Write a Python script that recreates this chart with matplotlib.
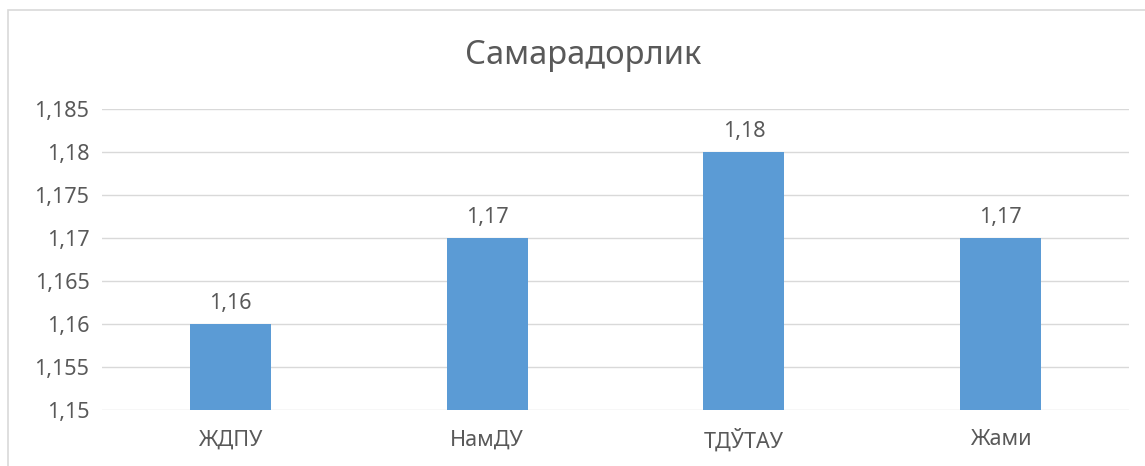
import matplotlib.pyplot as plt
import matplotlib.ticker as mticker
from matplotlib.patches import Rectangle
import numpy as np

plt.rcParams['font.family'] = ['Noto Sans', 'DejaVu Sans']

categories = ['ЖДПУ', 'НамДУ', 'ТДЎТАУ', 'Жами']
values = [1.16, 1.17, 1.18, 1.17]
value_labels = ['1,16', '1,17', '1,18', '1,17']
title = 'Самарадорлик'

text_color = '#595959'
bar_color = '#5B9BD5'
grid_color = '#D9D9D9'

fig = plt.figure(figsize=(11.45, 4.66), dpi=100)
ax = fig.add_axes([102 / 1145, 1 - 410 / 466, 1027 / 1145, 301 / 466])

# chart border (only left/top visible in the crop)
fig.patches.append(Rectangle((8 / 1145, -0.1), 1.2, 1 - 10 / 466 + 0.1,
                             transform=fig.transFigure, fill=False,
                             edgecolor=grid_color, linewidth=1.2))

x = np.arange(len(categories))
ax.bar(x, values, width=0.315, color=bar_color, zorder=3)

for xi, v, lab in zip(x, values, value_labels):
    ax.annotate(lab, (xi, v), xytext=(0, 7), textcoords='offset points',
                ha='center', va='bottom', fontsize=15.5, color=text_color)

ax.set_xlim(-0.5, len(categories) - 0.5)
ax.set_ylim(1.15, 1.185)
ax.yaxis.set_major_locator(mticker.MultipleLocator(0.005))
ax.yaxis.set_major_formatter(mticker.FuncFormatter(
    lambda v, p: ('%.3f' % v).rstrip('0').rstrip('.').replace('.', ',')))
ax.set_xticks(x)
ax.set_xticklabels(categories)

ax.grid(axis='y', color=grid_color, linewidth=1, zorder=0)
for s in ax.spines.values():
    s.set_visible(False)
ax.tick_params(length=0, labelsize=15.5, labelcolor=text_color)
ax.tick_params(axis='x', pad=14)
ax.tick_params(axis='y', pad=9)

fig.text(583 / 1145, 1 - 55 / 466, title, ha='center', va='center',
         fontsize=23.5, color=text_color)

fig.savefig('out.png', dpi=100)
